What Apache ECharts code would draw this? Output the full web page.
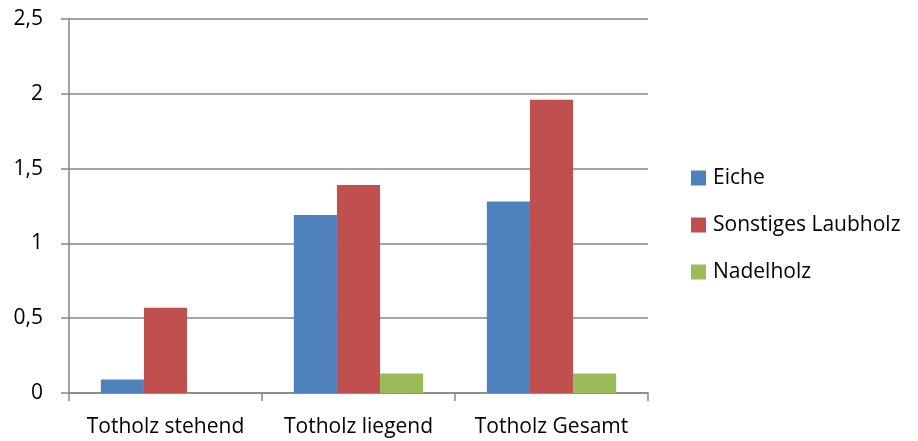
<!DOCTYPE html>
<html><head><meta charset="utf-8">
<script src="https://cdn.jsdelivr.net/npm/echarts@6/dist/echarts.min.js"></script>
<style>html,body{margin:0;padding:0;background:#fff}#c{width:918px;height:441px}</style>
</head><body><div id="c"></div>
<script>
const categories = ['Totholz stehend', 'Totholz liegend', 'Totholz Gesamt'];
const eiche = [0.09, 1.19, 1.28];
const sonstiges = [0.57, 1.39, 1.96];
const nadelholz = [0, 0.13, 0.13];
const seriesNames = ['Eiche', 'Sonstiges Laubholz', 'Nadelholz'];
const colors = ['#4F81BD', '#C0504D', '#9BBB59'];
const FONT = '"Open Sans", "Noto Sans", sans-serif';
const FS = 21;
const chart = echarts.init(document.getElementById('c'));
const mk = (name, data, color) => ({
  name, type: 'bar', data, barGap: '0%', barCategoryGap: '33%',
  itemStyle: { color }
});
chart.setOption({
  animation: false,
  color: colors,
  grid: { left: 69, right: 270, top: 19, bottom: 48 },
  legend: {
    orient: 'vertical', left: 686, top: 162, itemGap: 25,
    itemWidth: 15, itemHeight: 15, icon: 'rect', itemStyle: { borderWidth: 0 },
    textStyle: { fontFamily: FONT, fontSize: FS, lineHeight: 22, color: '#000', padding: [0, 0, 0, 2] },
    data: seriesNames
  },
  xAxis: {
    type: 'category', data: categories,
    axisLine: { lineStyle: { color: '#868686', width: 1.5 } },
    axisTick: { show: true, length: 8, lineStyle: { color: '#868686', width: 1.5 } },
    axisLabel: { fontFamily: FONT, fontSize: FS, color: '#000', margin: 24, interval: 0 }
  },
  yAxis: {
    type: 'value', min: 0, max: 2.5, interval: 0.5,
    axisLine: { show: true, lineStyle: { color: '#868686', width: 1.5 } },
    axisTick: { show: true, length: 8, lineStyle: { color: '#868686', width: 1.5 } },
    splitLine: { lineStyle: { color: '#868686', width: 1.5 } },
    axisLabel: { fontFamily: FONT, fontSize: FS, color: '#000', margin: 26,
      formatter: v => String(v).replace('.', ',') }
  },
  series: [
    mk(seriesNames[0], eiche, colors[0]),
    mk(seriesNames[1], sonstiges, colors[1]),
    mk(seriesNames[2], nadelholz, colors[2])
  ]
});
</script></body></html>
